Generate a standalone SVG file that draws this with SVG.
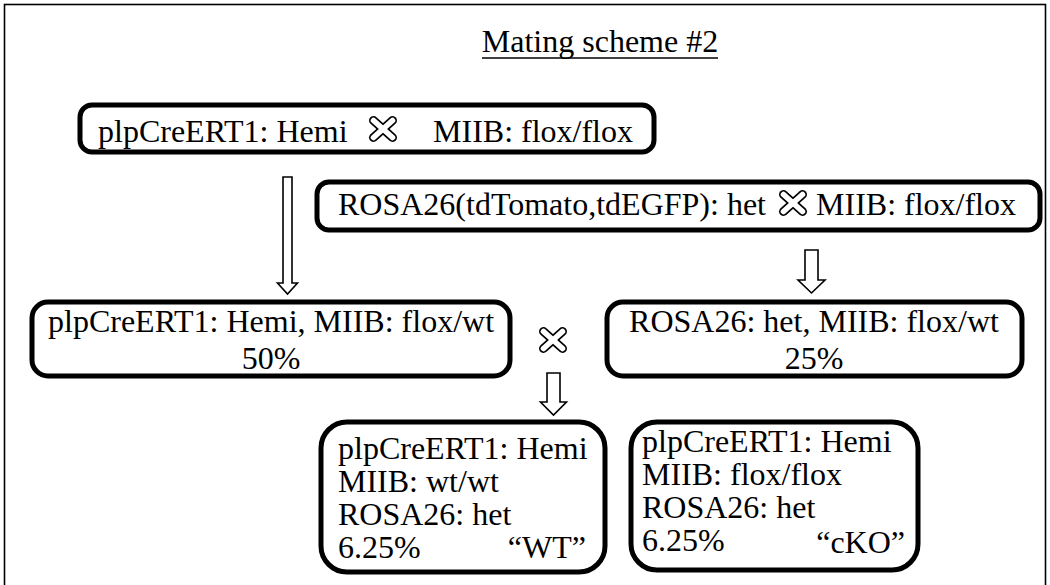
<svg xmlns="http://www.w3.org/2000/svg" xmlns:xlink="http://www.w3.org/1999/xlink" width="1050" height="585" viewBox="0 0 1050 585">
<style>
text{font-family:"Liberation Serif","Times New Roman",serif;font-size:32px;fill:#000}
.box{fill:#fff;stroke:#000;stroke-width:5}
.arrow{fill:#fff;stroke:#000;stroke-width:1.6;stroke-linejoin:miter}
.c{text-anchor:middle}
.e{text-anchor:end}
</style>
<defs>
<g id="cross">
<line x1="-9.5" y1="-8.5" x2="9.5" y2="8.5" stroke="#000" stroke-width="9" stroke-linecap="round"/>
<line x1="-9.5" y1="8.5" x2="9.5" y2="-8.5" stroke="#000" stroke-width="9" stroke-linecap="round"/>
<line x1="-9.5" y1="-8.5" x2="9.5" y2="8.5" stroke="#fff" stroke-width="5.6" stroke-linecap="round"/>
<line x1="-9.5" y1="8.5" x2="9.5" y2="-8.5" stroke="#fff" stroke-width="5.6" stroke-linecap="round"/>
</g>
</defs>
<rect x="0" y="0" width="1050" height="585" fill="#fff"/>
<rect x="4.5" y="4.5" width="1041" height="590" fill="none" stroke="#000" stroke-width="1.6"/>
<g id="title">
<text x="600" y="52" class="c">Mating scheme #2</text>
<line x1="482" y1="58" x2="718" y2="58" stroke="#000" stroke-width="1.6"/>
</g>
<g id="connectors">
<polygon class="arrow" points="283,177 292,177 292,283 297.5,283 287.5,294 277.5,283 283,283"/>
<polygon class="arrow" points="805,250 818,250 818,280 825,280 811.5,293 798,280 805,280"/>
<polygon class="arrow" points="547,373 560,373 560,402 566.5,402 553.5,415 540.5,402 547,402"/>
</g>
<g id="cross-top">
<rect class="box" x="80" y="105" width="574" height="47" rx="12"/>
<text x="98" y="142">plpCreERT1: Hemi</text>
<use xlink:href="#cross" x="383" y="129"/>
<text x="633" y="142" class="e">MIIB: flox/flox</text>
</g>
<g id="cross-rosa">
<rect class="box" x="317" y="182" width="723" height="48" rx="12"/>
<text x="338" y="215">ROSA26(tdTomato,tdEGFP): het</text>
<use xlink:href="#cross" x="793" y="203"/>
<text x="1016" y="215" class="e">MIIB: flox/flox</text>
</g>
<g id="f1-plp">
<rect class="box" x="32" y="302" width="478" height="74" rx="16"/>
<text x="271" y="332" class="c">plpCreERT1: Hemi, MIIB: flox/wt</text>
<text x="271" y="369" class="c">50%</text>
</g>
<g id="f1-cross">
<use xlink:href="#cross" x="553" y="340"/>
</g>
<g id="f1-rosa">
<rect class="box" x="607" y="302" width="415" height="74" rx="16"/>
<text x="814" y="332" class="c">ROSA26: het, MIIB: flox/wt</text>
<text x="814" y="369" class="c">25%</text>
</g>
<g id="wt">
<rect class="box" x="321" y="422" width="284" height="150" rx="26"/>
<text x="338" y="459">plpCreERT1: Hemi</text>
<text x="338" y="492">MIIB: wt/wt</text>
<text x="338" y="525">ROSA26: het</text>
<text x="338" y="558">6.25%</text>
<text x="586" y="558" class="e">“WT”</text>
</g>
<g id="cko">
<rect class="box" x="631" y="422" width="287" height="148" rx="26"/>
<text x="642" y="452">plpCreERT1: Hemi</text>
<text x="642" y="485">MIIB: flox/flox</text>
<text x="642" y="518">ROSA26: het</text>
<text x="642" y="551">6.25%</text>
<text x="905" y="553" class="e">“cKO”</text>
</g>
</svg>
